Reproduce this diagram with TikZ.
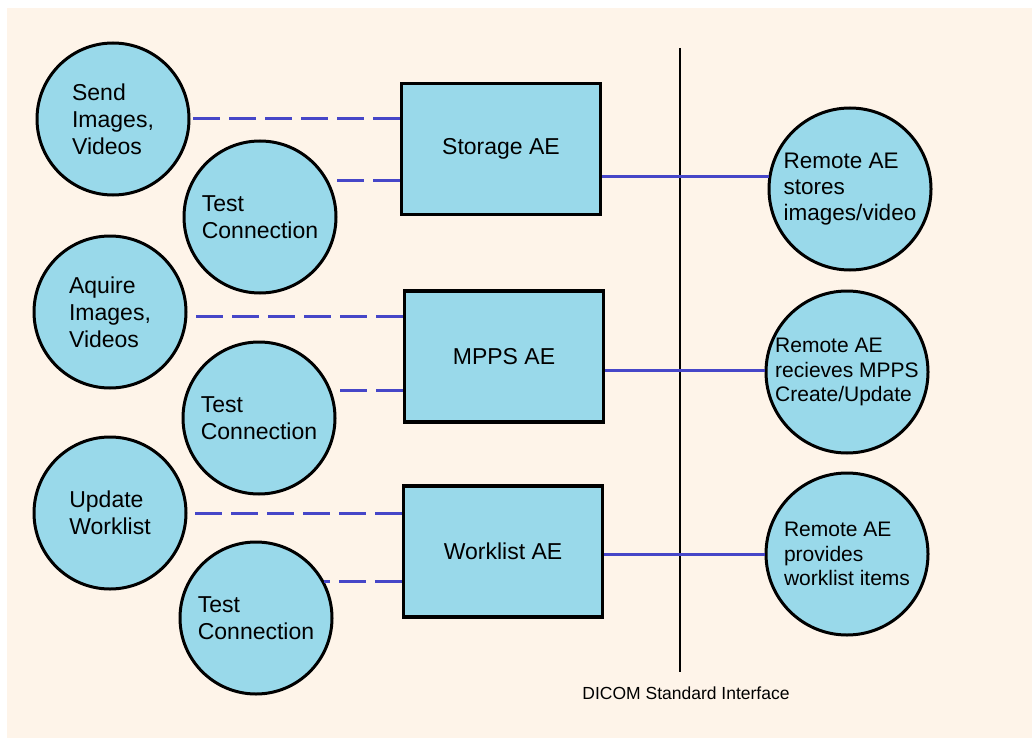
\documentclass[tikz,border=0pt]{standalone}
\usepackage{fontspec}
\setmainfont{Liberation Sans}
\definecolor{bg}{HTML}{FEF4E9}
\definecolor{nodefill}{HTML}{99D9EA}
\definecolor{wire}{HTML}{4646C8}
\begin{document}
\begin{tikzpicture}[x=1pt,y=-1pt,
  circ/.style={circle, draw=black, line width=3pt, fill=nodefill, minimum size=152pt, inner sep=0pt, align=left, font=\fontsize{23}{27}\selectfont},
  rcirc/.style={circ, minimum size=162pt, font=\fontsize{21}{24.5}\selectfont},
  aebox/.style={rectangle, draw=black, line width=3.5pt, fill=nodefill, minimum width=199pt, minimum height=131pt, font=\fontsize{23}{27}\selectfont},
  dashlink/.style={draw=wire, line width=3pt, dash pattern=on 27pt off 9pt},
  link/.style={draw=wire, line width=3pt},
  divider/.style={draw=black, line width=2pt}]
\fill[white] (0,0) rectangle (1032,738);
\fill[bg] (7,8) rectangle (1032,738);
\useasboundingbox (0,0) rectangle (1032,738);

% application entities
\node[aebox] (sto) at (501,149) {Storage AE};
\node[aebox] (mpps) at (504,356.5) {MPPS AE};
\node[aebox] (wl) at (503,551.5) {Worklist AE};

% local functions
\node[circ] (send) at (113,119) {Send\\Images,\\Videos};
\node[circ] (tc1) at (260,217) {Test\\Connection};
\node[circ] (acq) at (110,312) {Aquire\\Images,\\Videos};
\node[circ] (tc2) at (259,418) {Test\\Connection};
\node[circ] (upd) at (110,513) {Update\\Worklist};
\node[circ] (tc3) at (256,618) {Test\\Connection};

% remote entities
\node[rcirc, font=\fontsize{22.5}{26}\selectfont] (rs) at (850,189) {Remote AE\\stores\\images/video};
\node[rcirc] (rm) at (847,372) {Remote AE\\recieves MPPS\\Create/Update};
\node[rcirc] (rw) at (847,554) {Remote AE\\provides\\worklist items};

% interface divider
\coordinate (vtop) at (680,48);
\coordinate (vbot) at (680,672);
\draw[divider] (vtop) -- (vbot);
\node[font=\fontsize{17.5}{20}\selectfont] (dicom) at (686,693) {DICOM Standard Interface};

% dashed links
\draw[dashlink] (send.east -| sto.west) -- (send.east);
\draw[dashlink] (tc1.28 -| sto.west) -- (tc1.28);
\draw[dashlink] (acq.-3 -| mpps.west) -- (acq.-3);
\draw[dashlink] (tc2.21 -| mpps.west) -- (tc2.21);
\draw[dashlink] (upd.east -| wl.west) -- (upd.east);
\draw[dashlink] (tc3.28 -| wl.west) -- (tc3.28);

% solid links
\draw[link] (sto.east |- rs.171) -- (rs.171);
\draw[link] (mpps.east |- rm.179) -- (rm.179);
\draw[link] (wl.east |- rw.west) -- (rw.west);
\end{tikzpicture}
\end{document}
